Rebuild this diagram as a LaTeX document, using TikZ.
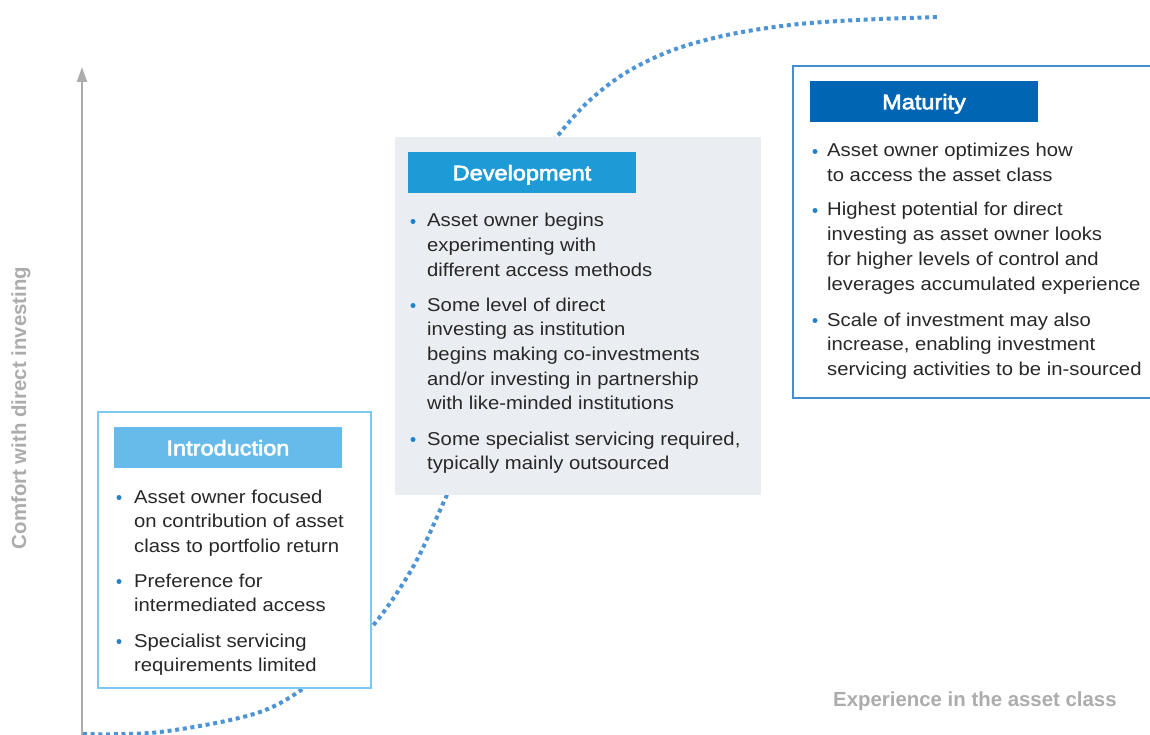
\documentclass[tikz,border=0pt]{standalone}
\usepackage{fontspec}
\setmainfont[FakeStretch=1.09]{Liberation Sans}
\newfontfamily\headfont[FakeStretch=1.12,FakeBold=3]{Liberation Sans}
\newfontfamily\labfont{Liberation Sans}
\usetikzlibrary{arrows.meta}
\definecolor{introhead}{RGB}{102,187,234}
\definecolor{introline}{RGB}{125,200,240}
\definecolor{devhead}{RGB}{30,155,215}
\definecolor{devfill}{RGB}{234,237,242}
\definecolor{mathead}{RGB}{0,102,179}
\definecolor{matline}{RGB}{70,140,210}
\definecolor{axisgray}{RGB}{172,172,172}
\definecolor{dotblue}{RGB}{77,148,214}
\definecolor{bulblue}{RGB}{30,130,205}
\definecolor{bodytext}{RGB}{40,40,40}
\begin{document}
\begin{tikzpicture}[x=1pt,y=-1pt,
  boxshape/.style={anchor=north west,inner sep=0pt,outer sep=0pt},
  headbox/.style={boxshape,minimum width=228pt,minimum height=41pt,text=white,
    text height=15.5pt,text depth=0pt,font=\headfont\fontsize{21}{24}\selectfont},
  bultext/.style={anchor=base west,inner sep=0pt,text=bodytext,
    font=\fontsize{18.6}{24.7}\selectfont},
  buldot/.style={circle,fill=bulblue,inner sep=0pt,minimum size=5pt},
  graylab/.style={text=axisgray,inner sep=0pt,font=\labfont\bfseries\fontsize{20.4}{24}\selectfont},
  dotcurve/.style={draw=dotblue,line width=4pt,dash pattern=on 4pt off 3.7pt},
  axisline/.style={draw=axisgray,line width=2pt}
]
\useasboundingbox (0,0) rectangle (1150,735);
% curve
\draw[dotcurve] plot[smooth,tension=0.55] coordinates {(83,734) (160,732) (260,712) (320,676) (371,628) (413,567) (446,497) (470,445) (500,310) (530,175) (560,133) (590,100) (627,72) (673,50) (727,35) (790,25) (857,20) (940,17)};
% axis
\coordinate (ax0) at (82,736);
\coordinate (ax1) at (82,67);
\draw[axisline,-{Triangle[width=10pt,length=15pt]}] (ax0) -- (ax1);
\node[graylab,rotate=90] (ylab) at (21,408) {Comfort with direct investing};
\node[graylab,anchor=base west] (xlab) at (833,706) {Experience in the asset class};
% introduction
\node[boxshape,draw=introline,line width=1.2pt,fill=white,minimum width=273pt,minimum height=276pt] (intro) at (98,412) {};
\node[headbox,fill=introhead] (introh) at (114,427) {Introduction};
\node[buldot] (id1) at (119,497.5) {};
\node[bultext] (it1) at (134,503) {\parbox[t]{300pt}{Asset owner focused\\on contribution of asset\\class to portfolio return}};
\node[buldot] (id2) at (119,581.5) {};
\node[bultext] (it2) at (134,587) {\parbox[t]{300pt}{Preference for\\intermediated access}};
\node[buldot] (id3) at (119,641.5) {};
\node[bultext] (it3) at (134,647) {\parbox[t]{300pt}{Specialist servicing\\requirements limited}};
% development
\node[boxshape,fill=devfill,minimum width=366pt,minimum height=358pt] (dev) at (395,137) {};
\node[headbox,fill=devhead] (devh) at (408,152) {Development};
\node[buldot] (dd1) at (413,221.5) {};
\node[bultext] (dt1) at (427,227) {\parbox[t]{340pt}{Asset owner begins\\experimenting with\\different access methods}};
\node[buldot] (dd2) at (413,305.5) {};
\node[bultext] (dt2) at (427,311) {\parbox[t]{340pt}{Some level of direct\\investing as institution\\begins making co-investments\\and/or investing in partnership\\with like-minded institutions}};
\node[buldot] (dd3) at (413,439.5) {};
\node[bultext] (dt3) at (427,445) {\parbox[t]{340pt}{Some specialist servicing required,\\typically mainly outsourced}};
% maturity
\node[boxshape,draw=matline,line width=1.2pt,fill=white,minimum width=400pt,minimum height=332pt] (mat) at (793,66) {};
\node[headbox,fill=mathead] (math) at (810,81) {Maturity};
\node[buldot] (md1) at (815,151.5) {};
\node[bultext] (mt1) at (827,157) {\parbox[t]{340pt}{Asset owner optimizes how\\to access the asset class}};
\node[buldot] (md2) at (815,210.5) {};
\node[bultext] (mt2) at (827,216) {\parbox[t]{340pt}{Highest potential for direct\\investing as asset owner looks\\for higher levels of control and\\leverages accumulated experience}};
\node[buldot] (md3) at (815,320.5) {};
\node[bultext] (mt3) at (827,326) {\parbox[t]{340pt}{Scale of investment may also\\increase, enabling investment\\servicing activities to be in-sourced}};
\end{tikzpicture}
\end{document}
